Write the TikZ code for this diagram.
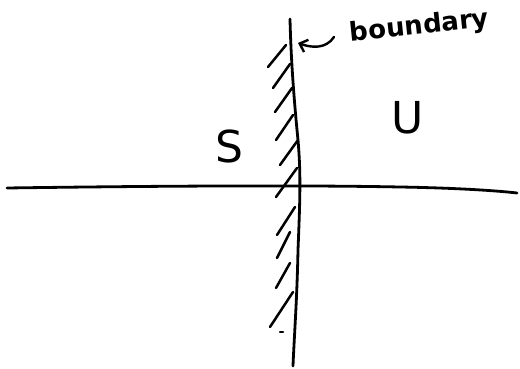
\documentclass[tikz,border=0pt]{standalone}
\usepackage{fontspec}
\setmainfont{DejaVu Sans}
\usetikzlibrary{arrows.meta}
\begin{document}
\begin{tikzpicture}[x=1pt,y=-1pt,
  ink/.style={line width=2.8pt,line cap=round,line join=round,black},
  hatchline/.style={line width=2.5pt,line cap=round,black},
  bigletter/.style={font=\fontsize{44}{44}\selectfont,inner sep=0pt},
  labeltext/.style={font=\fontsize{26}{26}\selectfont\bfseries,inner sep=0pt}]
\useasboundingbox (0,0) rectangle (520,369);
% boundary (vertical line)
\draw[ink] (290,19) .. controls (291,60) and (294,100) .. (298,140)
  .. controls (301,175) and (300,200) .. (298,250)
  .. controls (297,300) and (294,340) .. (293,366);
% axis (horizontal line)
\draw[ink] (7,188) .. controls (150,186) and (300,185) .. (400,187)
  .. controls (460,188) and (500,191) .. (517,193);
% hatching
\foreach \a/\b/\c/\d in {268/67/286/45, 273/88/290/64, 275/112/292/88,
  276/140/293/115, 280/165/298/140, 276/197/297/168, 277/235/295/207,
  277/258/290/232, 276/288/290/263, 270/327/293/292}
  \draw[hatchline] (\a,\b) -- (\c,\d);
\draw[hatchline] (280,332) -- (283,332);
% labels
\node[bigletter] (S) at (229,146) {S};
\node[bigletter] (U) at (408,118) {U};
\node[labeltext,rotate=6,anchor=west] (lbl) at (350,34) {boundary};
\coordinate (tip) at (298,43);
\draw[line width=2.4pt,line cap=round,-{Straight Barb[length=7pt,width=13pt,line width=2.4pt]}]
  (lbl.west) ++(-16,3) .. controls (326,49) and (312,48) .. (tip);
\end{tikzpicture}
\end{document}
